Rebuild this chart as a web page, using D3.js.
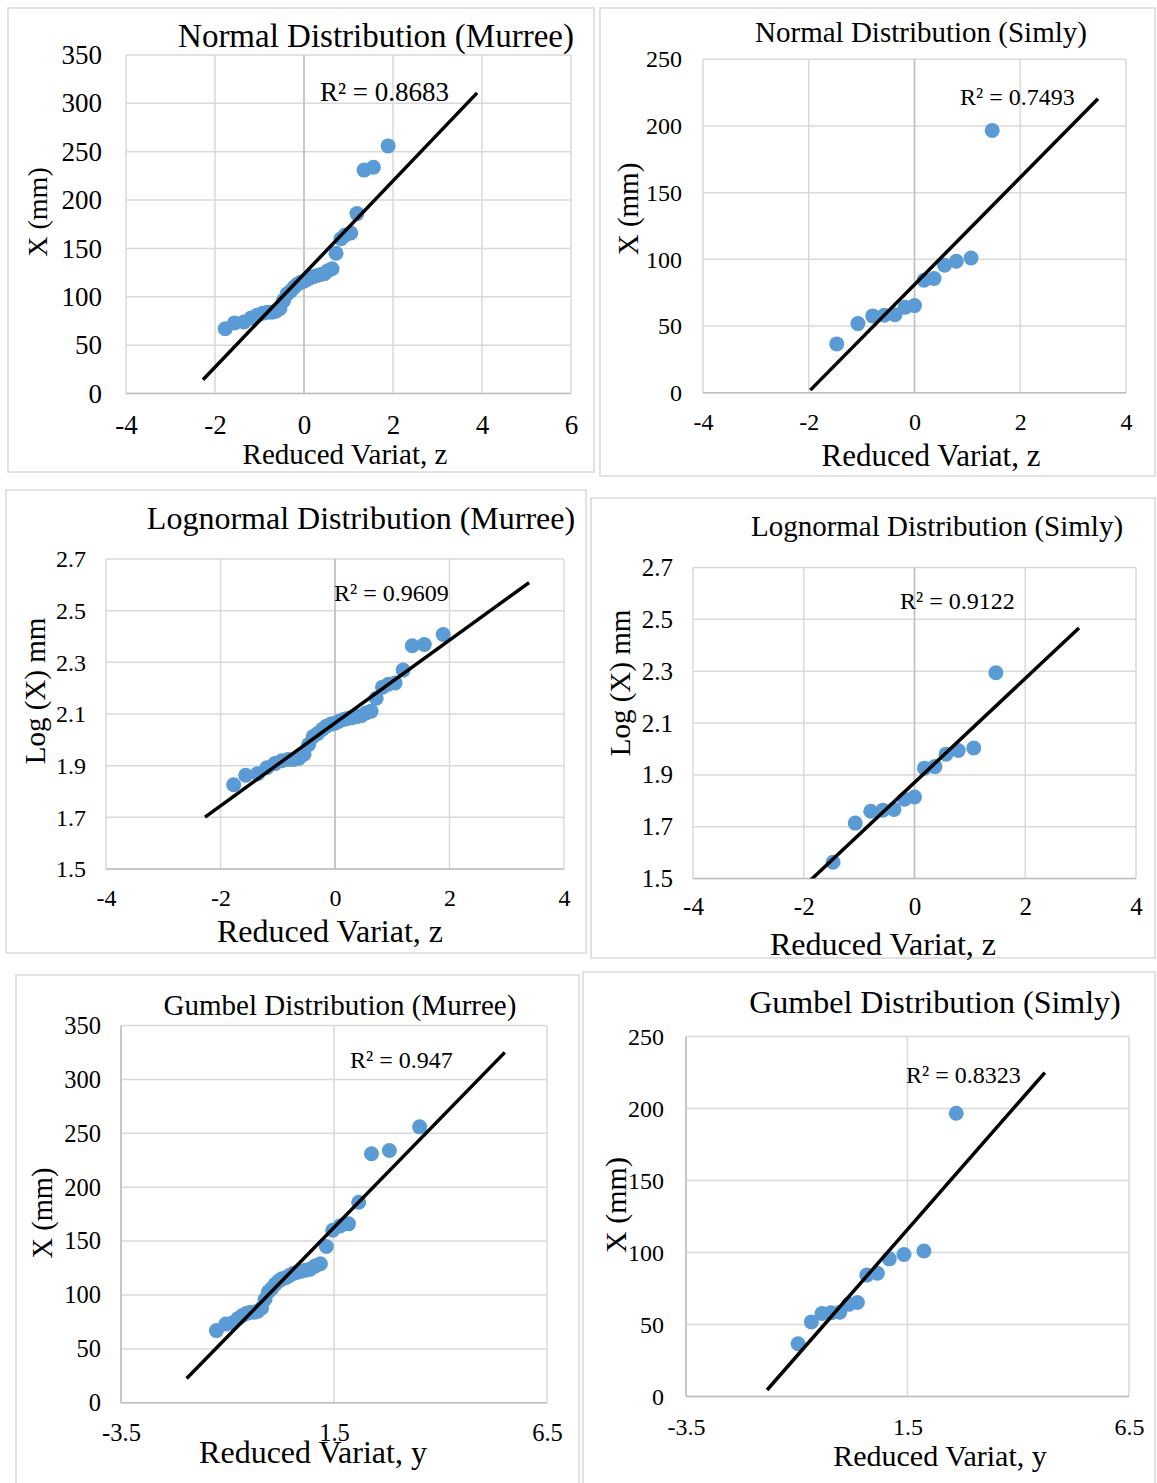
<!DOCTYPE html>
<html>
<head>
<meta charset="utf-8">
<script src="https://cdn.jsdelivr.net/npm/d3@7/dist/d3.min.js"></script>
<style>
  html, body { margin: 0; padding: 0; background: #fff; }
  svg { display: block; }
  text { font-family: "Liberation Serif", "Times New Roman", serif; fill: #000; }
</style>
</head>
<body>
<svg id="chart" width="1157" height="1483"></svg>
<script>
// ---------------- data ----------------
// Murree: ranked annual maxima (mm) with their reduced variates
const murreeX = [67, 73, 74, 78, 81, 83, 84, 84, 85, 88, 96, 103, 106, 110, 113, 115, 116,
                 118, 120, 121, 122, 123, 124, 127, 129, 145, 160, 164, 166, 186, 231, 234, 256];
const murreeLogX = [1.826, 1.863, 1.869, 1.892, 1.908, 1.919, 1.924, 1.924, 1.929, 1.944, 1.982,
                    2.013, 2.025, 2.041, 2.053, 2.061, 2.064, 2.072, 2.079, 2.083, 2.086, 2.090,
                    2.093, 2.104, 2.111, 2.161, 2.204, 2.215, 2.220, 2.270, 2.364, 2.369, 2.408];
const murreeZ = [-1.77, -1.56, -1.35, -1.19, -1.05, -0.93, -0.82, -0.72, -0.63, -0.54, -0.46,
                 -0.38, -0.30, -0.22, -0.15, -0.07, 0.00, 0.07, 0.15, 0.22, 0.30, 0.38, 0.46,
                 0.54, 0.63, 0.72, 0.83, 0.93, 1.05, 1.19, 1.35, 1.56, 1.89];
const murreeY = [-1.26, -1.04, -0.89, -0.76, -0.65, -0.55, -0.46, -0.37, -0.29, -0.20, -0.12,
                 -0.04, 0.04, 0.12, 0.20, 0.28, 0.37, 0.45, 0.54, 0.63, 0.73, 0.83, 0.94,
                 1.06, 1.18, 1.32, 1.47, 1.64, 1.84, 2.08, 2.38, 2.80, 3.51];

// Simly: ranked annual maxima (mm) with their reduced variates
const simlyX = [36.6, 51.8, 57.6, 58.1, 58.5, 64.0, 65.3, 84.3, 85.6, 95.6, 98.6, 101.0, 196.7];
const simlyLogX = [1.563, 1.714, 1.760, 1.764, 1.767, 1.806, 1.815, 1.926, 1.932, 1.980, 1.994, 2.004, 2.294];
const simlyZ = [-1.47, -1.07, -0.79, -0.57, -0.37, -0.18, 0.00, 0.18, 0.37, 0.57, 0.79, 1.07, 1.47];
const simlyY = [-0.97, -0.67, -0.43, -0.23, -0.03, 0.17, 0.37, 0.58, 0.82, 1.09, 1.42, 1.87, 2.60];

// chart titles and goodness-of-fit labels
const titles = [
  "Normal Distribution (Murree)", "Normal Distribution (Simly)",
  "Lognormal Distribution (Murree)", "Lognormal Distribution (Simly)",
  "Gumbel Distribution (Murree)", "Gumbel Distribution (Simly)"
];
const r2Labels = ["R² = 0.8683", "R² = 0.7493", "R² = 0.9609", "R² = 0.9122", "R² = 0.947", "R² = 0.8323"];
const xAxisTitles = ["Reduced Variat, z", "Reduced Variat, z", "Reduced Variat, z",
                     "Reduced Variat, z", "Reduced Variat, y", "Reduced Variat, y"];
const yAxisTitles = ["X (mm)", "X (mm)", "Log (X) mm", "Log (X) mm", "X (mm)", "X (mm)"];

// tick values
const zTicksWide = [-4, -2, 0, 2, 4, 6];
const zTicks = [-4, -2, 0, 2, 4];
const gumbelTicks = [-3.5, 1.5, 6.5];
const murreeMmTicks = [0, 50, 100, 150, 200, 250, 300, 350];
const simlyMmTicks = [0, 50, 100, 150, 200, 250];
const logTicks = [1.5, 1.7, 1.9, 2.1, 2.3, 2.5, 2.7];

// linear trendline forecast (backward, forward) in x units
const forecastNormal = [0.5, 2];
const forecastLognormal = [0.5, 1.5];
const forecastGumbel = [0.7, 2];

// ---------------- layout ----------------
const panels = [
  { xs: murreeZ, ys: murreeX, xTicks: zTicksWide, yTicks: murreeMmTicks, forecast: forecastNormal, axisAtZero: true,
    frame: [8, 8, 586, 464], plot: { l: 126, r: 571, t: 55, b: 393.5 },
    titlePos: [376, 36, 33], xTitlePos: [345, 454, 29], yTitlePos: [37, 212, 28],
    tickFs: 27, yPad: 24, xPad: 21, r2Pos: [320, 92, 27] },
  { xs: simlyZ, ys: simlyX, xTicks: zTicks, yTicks: simlyMmTicks, forecast: forecastNormal, axisAtZero: true,
    frame: [600, 8, 555, 468], plot: { l: 703, r: 1126, t: 59.3, b: 392.7 },
    titlePos: [921, 32, 29], xTitlePos: [931, 455, 31], yTitlePos: [628, 209, 29],
    tickFs: 24, yPad: 21, xPad: 20, r2Pos: [960, 97, 24] },
  { xs: murreeZ, ys: murreeLogX, xTicks: zTicks, yTicks: logTicks, forecast: forecastLognormal, axisAtZero: true,
    frame: [6, 490, 580, 463], plot: { l: 106, r: 564, t: 559, b: 869 },
    titlePos: [361, 518, 32], xTitlePos: [330, 931, 32], yTitlePos: [35, 691, 29],
    tickFs: 24, yPad: 20, xPad: 20, r2Pos: [334, 593, 24] },
  { xs: simlyZ, ys: simlyLogX, xTicks: zTicks, yTicks: logTicks, forecast: forecastLognormal, axisAtZero: true,
    frame: [591, 498, 564, 460], plot: { l: 693, r: 1136, t: 567.5, b: 878.6 },
    titlePos: [937, 526, 29], xTitlePos: [883, 944, 32], yTitlePos: [620, 683, 29],
    tickFs: 25, yPad: 20, xPad: 18.6, r2Pos: [900, 601, 24] },
  { xs: murreeY, ys: murreeX, xTicks: gumbelTicks, yTicks: murreeMmTicks, forecast: forecastGumbel, axisAtZero: false,
    frame: [16, 975, 563, 530], plot: { l: 121, r: 547, t: 1025.5, b: 1402.8 },
    titlePos: [340, 1005, 29], xTitlePos: [313, 1452, 32], yTitlePos: [42, 1213, 28.5],
    tickFs: 24.5, yPad: 20, xPad: 20.6, r2Pos: [350, 1060, 24] },
  { xs: simlyY, ys: simlyX, xTicks: gumbelTicks, yTicks: simlyMmTicks, forecast: forecastGumbel, axisAtZero: false,
    frame: [583, 972, 572, 530], plot: { l: 686, r: 1129, t: 1036.5, b: 1396.5 },
    titlePos: [935, 1002, 32], xTitlePos: [940, 1455, 30], yTitlePos: [615, 1205, 30],
    tickFs: 24, yPad: 22, xPad: 21, r2Pos: [906, 1075, 24] }
];

const svg = d3.select("#chart");
const GRID = "#d9d9d9", AXIS = "#bfbfbf", MARKER = "#5b9bd5";

// ordinary least-squares line through the series
function linearFit(xs, ys) {
  const mx = d3.mean(xs), my = d3.mean(ys);
  let sxy = 0, sxx = 0;
  xs.forEach((x, i) => { sxy += (x - mx) * (ys[i] - my); sxx += (x - mx) * (x - mx); });
  const b = sxy / sxx;
  return { a: my - b * mx, b };
}

panels.forEach((p, idx) => {
  const g = svg.append("g");
  const P = p.plot;

  // chart frame
  g.append("rect")
    .attr("x", p.frame[0]).attr("y", p.frame[1])
    .attr("width", p.frame[2]).attr("height", p.frame[3])
    .attr("fill", "#fff").attr("stroke", GRID).attr("stroke-width", 1.5);

  const xDom = d3.extent(p.xTicks), yDom = d3.extent(p.yTicks);
  const sx = d3.scaleLinear().domain(xDom).range([P.l, P.r]);
  const sy = d3.scaleLinear().domain(yDom).range([P.b, P.t]);

  // gridlines
  g.append("g").selectAll("line").data(p.xTicks).join("line")
    .attr("x1", d => sx(d)).attr("x2", d => sx(d))
    .attr("y1", P.t).attr("y2", P.b)
    .attr("stroke", GRID).attr("stroke-width", 1.5);
  g.append("g").selectAll("line").data(p.yTicks).join("line")
    .attr("x1", P.l).attr("x2", P.r)
    .attr("y1", d => sy(d)).attr("y2", d => sy(d))
    .attr("stroke", GRID).attr("stroke-width", 1.5);

  // axis lines
  const vAxisX = p.axisAtZero ? sx(0) : sx(xDom[0]);
  g.append("line").attr("x1", vAxisX).attr("x2", vAxisX).attr("y1", P.t).attr("y2", P.b)
    .attr("stroke", AXIS).attr("stroke-width", 1.5);
  g.append("line").attr("x1", P.l).attr("x2", P.r).attr("y1", sy(yDom[0])).attr("y2", sy(yDom[0]))
    .attr("stroke", AXIS).attr("stroke-width", 1.5);

  // tick labels
  const xAxis = g.append("g").attr("transform", `translate(0,${P.b})`)
    .call(d3.axisBottom(sx).tickValues(p.xTicks).tickSize(0).tickPadding(p.xPad).tickFormat(d => String(d)));
  const yAxis = g.append("g").attr("transform", `translate(${P.l},0)`)
    .call(d3.axisLeft(sy).tickValues(p.yTicks).tickSize(0).tickPadding(p.yPad).tickFormat(d => String(d)));
  [xAxis, yAxis].forEach(ax => {
    ax.select(".domain").remove();
    ax.attr("font-family", null).attr("font-size", null);
    ax.selectAll("text").style("font-size", p.tickFs + "px").attr("fill", "#000");
  });

  // points
  const pts = p.xs.map((x, i) => [x, p.ys[i]]);
  g.append("g").selectAll("circle").data(pts).join("circle")
    .attr("cx", d => sx(d[0])).attr("cy", d => sy(d[1])).attr("r", 7.5)
    .attr("fill", MARKER);

  // linear trendline, clipped to the plot area
  const clipId = "clip" + idx;
  g.append("clipPath").attr("id", clipId).append("rect")
    .attr("x", P.l).attr("y", P.t).attr("width", P.r - P.l).attr("height", P.b - P.t);
  const f = linearFit(p.xs, p.ys);
  const x0 = d3.min(p.xs) - p.forecast[0], x1 = d3.max(p.xs) + p.forecast[1];
  g.append("line").attr("clip-path", `url(#${clipId})`)
    .attr("x1", sx(x0)).attr("y1", sy(f.a + f.b * x0))
    .attr("x2", sx(x1)).attr("y2", sy(f.a + f.b * x1))
    .attr("stroke", "#000").attr("stroke-width", 3.5);

  // R² label
  g.append("text").attr("x", p.r2Pos[0]).attr("y", p.r2Pos[1])
    .attr("dominant-baseline", "central").style("font-size", p.r2Pos[2] + "px")
    .text(r2Labels[idx]);

  // chart title
  g.append("text").attr("x", p.titlePos[0]).attr("y", p.titlePos[1])
    .attr("text-anchor", "middle").attr("dominant-baseline", "central")
    .style("font-size", p.titlePos[2] + "px").text(titles[idx]);

  // axis titles
  g.append("text").attr("x", p.xTitlePos[0]).attr("y", p.xTitlePos[1])
    .attr("text-anchor", "middle").attr("dominant-baseline", "central")
    .style("font-size", p.xTitlePos[2] + "px").text(xAxisTitles[idx]);
  g.append("text")
    .attr("transform", `translate(${p.yTitlePos[0]},${p.yTitlePos[1]}) rotate(-90)`)
    .attr("text-anchor", "middle").attr("dominant-baseline", "central")
    .style("font-size", p.yTitlePos[2] + "px").text(yAxisTitles[idx]);
});
</script>
</body>
</html>
